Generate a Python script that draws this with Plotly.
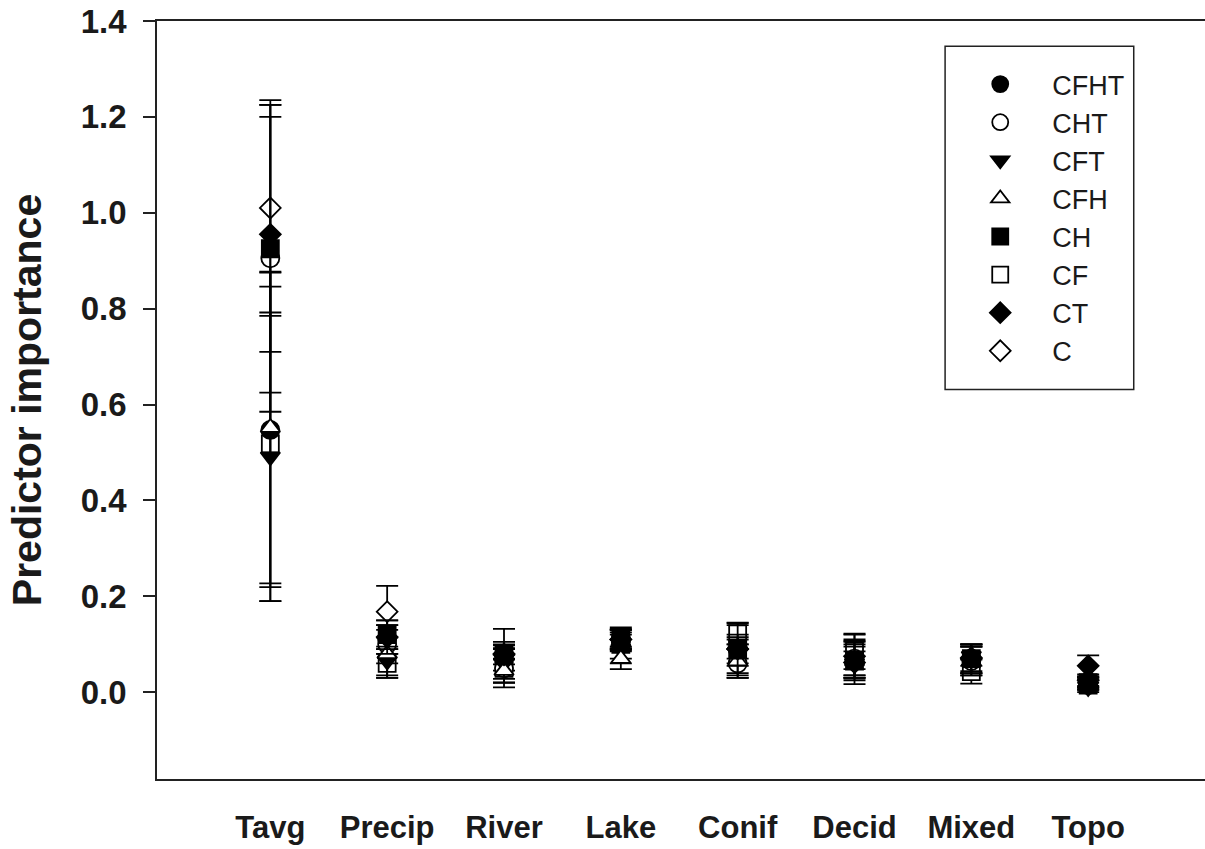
import plotly.graph_objects as go

categories = ["Tavg", "Precip", "River", "Lake", "Conif", "Decid", "Mixed", "Topo"]
series_names = ["CFHT", "CHT", "CFT", "CFH", "CH", "CF", "CT", "C"]

CFHT = [0.547, 0.110, 0.075, 0.105, 0.090, 0.065, 0.070, 0.015]
CFHT_err = [0.328, 0.030, 0.030, 0.020, 0.030, 0.030, 0.030, 0.010]
CHT = [0.905, 0.100, 0.050, 0.110, 0.060, 0.070, 0.065, 0.020]
CHT_err = [0.320, 0.040, 0.030, 0.020, 0.030, 0.040, 0.030, 0.010]
CFT = [0.491, 0.065, 0.060, 0.090, 0.085, 0.060, 0.075, 0.010]
CFT_err = [0.301, 0.030, 0.040, 0.030, 0.030, 0.025, 0.020, 0.010]
CFH = [0.552, 0.080, 0.045, 0.070, 0.065, 0.065, 0.065, 0.020]
CFH_err = [0.325, 0.050, 0.025, 0.022, 0.035, 0.035, 0.030, 0.010]
CH = [0.925, 0.120, 0.080, 0.115, 0.090, 0.065, 0.070, 0.020]
CH_err = [0.300, 0.030, 0.012, 0.020, 0.020, 0.040, 0.030, 0.012]
CF = [0.518, 0.060, 0.050, 0.100, 0.122, 0.085, 0.043, 0.015]
CF_err = [0.328, 0.030, 0.040, 0.030, 0.022, 0.037, 0.025, 0.010]
CT = [0.955, 0.115, 0.078, 0.110, 0.090, 0.062, 0.072, 0.055]
CT_err = [0.245, 0.035, 0.020, 0.022, 0.050, 0.045, 0.028, 0.022]
C = [1.010, 0.168, 0.080, 0.110, 0.090, 0.075, 0.070, 0.025]
C_err = [0.225, 0.054, 0.052, 0.020, 0.055, 0.045, 0.030, 0.012]

y_ticks = [0.0, 0.2, 0.4, 0.6, 0.8, 1.0, 1.2, 1.4]

values = {"CFHT": CFHT, "CHT": CHT, "CFT": CFT, "CFH": CFH,
          "CH": CH, "CF": CF, "CT": CT, "C": C}
errors = {"CFHT": CFHT_err, "CHT": CHT_err, "CFT": CFT_err, "CFH": CFH_err,
          "CH": CH_err, "CF": CF_err, "CT": CT_err, "C": C_err}

style = {
    "CFHT": ("circle", "black", 18),
    "CHT": ("circle", "white", 18),
    "CFT": ("triangle-down", "black", 17),
    "CFH": ("triangle-up", "white", 17),
    "CH": ("square", "black", 17),
    "CF": ("square", "white", 17),
    "CT": ("diamond", "black", 16),
    "C": ("diamond", "white", 16),
}

draw_order = ["C", "CF", "CFHT", "CHT", "CFT", "CFH", "CH", "CT"]

fig = go.Figure()
for name in draw_order:
    sym, fill, size = style[name]
    fig.add_trace(go.Scatter(
        x=categories, y=values[name], name=name, mode="markers",
        legendrank=series_names.index(name) + 1,
        marker=dict(symbol=sym, color=fill, size=size,
                    line=dict(color="black", width=1.8)),
        error_y=dict(type="data", array=errors[name], visible=True,
                     color="black", thickness=1.8, width=11),
    ))

font_family = "Arial, Liberation Sans, sans-serif"

fig.update_layout(
    width=1205, height=849,
    margin=dict(l=157, r=0, t=21, b=70, autoexpand=False),
    paper_bgcolor="white", plot_bgcolor="white",
    showlegend=True,
    legend=dict(x=0.755, y=0.9485, xanchor="left", yanchor="top",
                bgcolor="rgba(0,0,0,0)", borderwidth=0,
                font=dict(family=font_family, size=27, color="#1a1a1a"),
                itemsizing="trace", itemwidth=94, tracegroupgap=0),
    shapes=[dict(type="rect", xref="paper", yref="paper",
                 x0=0.752, x1=0.932, y0=0.514, y1=0.9667,
                 line=dict(color="#222", width=1.5), fillcolor="rgba(0,0,0,0)",
                 layer="below")],
)

fig.update_xaxes(
    type="category", categoryorder="array", categoryarray=categories,
    range=[-0.97, 8.0], showgrid=False, zeroline=False,
    showline=True, linecolor="#222", linewidth=1.5, mirror=True,
    ticks="", ticklabelstandoff=20,
    tickfont=dict(family=font_family, size=31, color="#1a1a1a", weight="bold"),
)
fig.update_yaxes(
    range=[-0.181, 1.4], tickvals=y_ticks, tickformat=".1f",
    showgrid=False, zeroline=False,
    showline=True, linecolor="#222", linewidth=1.5, mirror=False,
    ticks="outside", ticklen=12, tickwidth=1.5, tickcolor="#222",
    ticklabelstandoff=10,
    tickfont=dict(family=font_family, size=33, color="#1a1a1a", weight="bold"),
    title=dict(text="Predictor importance", standoff=26,
               font=dict(family=font_family, size=41, color="#1a1a1a", weight="bold")),
)

fig.write_html("out.html")
